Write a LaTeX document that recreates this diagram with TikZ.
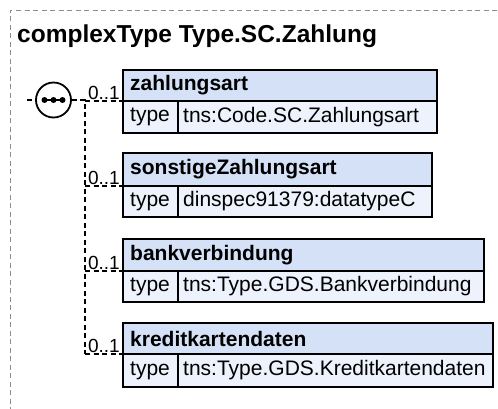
\documentclass[tikz,border=0pt]{standalone}
\usepackage{fontspec}
\setmainfont{Liberation Sans}
\begin{document}
\begin{tikzpicture}[x=1pt,y=-1pt,
  frame/.style={draw=black!45, line width=0.9pt, dash pattern=on 5pt off 3.5pt},
  conn/.style={draw=black, line width=1.6pt, dash pattern=on 5pt off 3.5pt},
  hdr/.style={fill=hdrblue, draw=black, line width=2pt},
  row/.style={fill=rowblue, draw=black, line width=2pt},
  hdrtext/.style={anchor=west, inner sep=0pt, font=\fontsize{21}{23}\selectfont\bfseries},
  rowtext/.style={anchor=west, inner sep=0pt, font=\fontsize{21}{23}\selectfont},
  occ/.style={anchor=south east, inner sep=0pt, font=\fontsize{19}{21}\selectfont}
]
\definecolor{hdrblue}{HTML}{D5E1F6}
\definecolor{rowblue}{HTML}{EDF2FC}
\useasboundingbox (0,0) rectangle (498,408);
% outer frame
\draw[frame] (10,412) -- (10,10) -- (502,10);
\node[anchor=base west, inner sep=0pt, font=\fontsize{24.5}{26}\selectfont\bfseries] (title) at (17,42) {complexType Type.SC.Zahlung};
% sequence compositor
\node[circle, draw=black, line width=1.8pt, fill=white, minimum size=35pt, inner sep=0pt] (seq) at (53.5,100) {};
\fill (44.5,100) circle (3pt) (53.5,100) circle (3pt) (62.5,100) circle (3pt);
\draw[line width=1.6pt] (44.5,100) -- (62.5,100);
\coordinate (in) at (27,100);
\draw[conn] (in) -- (seq.west);
\coordinate (bus) at (85,101);
\coordinate (busend) at (85,354);
\draw[conn] (seq.east) -- (seq.east -| bus) -- (busend);
% boxes
\foreach \n/\top/\sep/\bot/\right/\name/\type in {
  a/70/101/133/437/zahlungsart/tns:Code.SC.Zahlungsart,
  b/153/186/217/432/sonstigeZahlungsart/dinspec91379:datatypeC,
  c/239/271/302/484/bankverbindung/tns:Type.GDS.Bankverbindung,
  d/323/354/387/493/kreditkartendaten/tns:Type.GDS.Kreditkartendaten} {
  \path[hdr] (123,\top) rectangle (\right,\sep);
  \path[row] (123,\sep) rectangle (\right,\bot);
  \draw[line width=2pt] (178,\sep) -- (178,\bot);
  \node[hdrtext] (\n h) at (130,{(\top+\sep)/2}) {\name};
  \node[rowtext] (\n k) at (130,{(\sep+\bot)/2}) {type};
  \node[rowtext] (\n t) at (183,{(\sep+\bot)/2}) {\type};
  \coordinate (\n p) at (123,\sep);
  \draw[conn] (85,\sep) -- (\n p);
  \node[occ] (\n o) at (120,{\sep-1}) {0..1};
}
\end{tikzpicture}
\end{document}
